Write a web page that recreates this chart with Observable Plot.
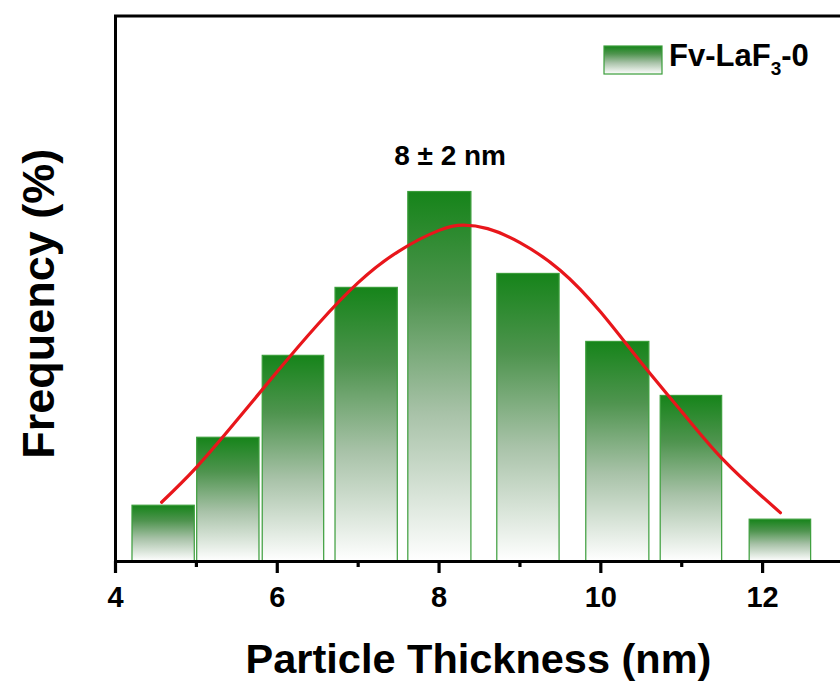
<!DOCTYPE html>
<html>
<head>
<meta charset="utf-8">
<script src="https://cdn.jsdelivr.net/npm/d3@7"></script>
<script src="https://cdn.jsdelivr.net/npm/@observablehq/plot@0.6"></script>
<style>
  html, body { margin: 0; padding: 0; background: #fff; overflow: hidden; }
  #chart svg { display: block; }
</style>
</head>
<body>
<div id="chart"></div>
<script>
// Histogram bins of particle thickness (nm) and their frequencies (%)
const binStart = [4.21, 5.01, 5.82, 6.72, 7.62, 8.72, 9.82, 10.74, 11.84];
const binEnd   = [4.98, 5.78, 6.58, 7.49, 8.40, 9.49, 10.60, 11.50, 12.60];
const frequency = [3.2, 7.1, 11.8, 15.7, 21.2, 16.5, 12.6, 9.5, 2.4];

// Gaussian fit curve, sampled along the thickness axis
const fitX = [4.57, 5.0, 5.5, 6.0, 6.5, 7.0, 7.5, 8.0, 8.3, 8.6,
              9.0, 9.5, 10.0, 10.5, 11.0, 11.5, 12.0, 12.22];
const fitY = [3.4, 5.4, 8.1, 10.9, 13.6, 16.0, 17.8, 19.0, 19.3, 19.1,
              18.3, 16.7, 14.3, 11.4, 8.6, 5.9, 3.7, 2.8];

const majorTicks = [4, 6, 8, 10, 12];
const minorTicks = [5, 7, 9, 11];

const sampleName = ["Fv-LaF", "3", "-0"];
const sizeLabel = "8 \u00b1 2 nm";
const xTitle = "Particle Thickness (nm)";
const yTitle = "Frequency (%)";

const bins = binStart.map((x1, i) => ({x1, x2: binEnd[i], f: frequency[i]}));
const fit = fitX.map((x, i) => ({x, y: fitY[i]}));

const font = "'Liberation Sans', Arial, Helvetica, sans-serif";

const chart = Plot.plot({
  width: 850,
  height: 682,
  marginLeft: 115,
  marginRight: 7,
  marginTop: 15.5,
  marginBottom: 121,
  style: {fontFamily: font, background: "white", color: "black"},
  x: {domain: [4, 13]},
  y: {domain: [0, 31.3], axis: null},
  marks: [
    Plot.rectY(bins, {x1: "x1", x2: "x2", y: "f", fill: "url(#barFill)", stroke: "#3a9d3a", strokeWidth: 1.2}),
    Plot.line(fit, {x: "x", y: "y", stroke: "#e8161b", strokeWidth: 3.2, curve: "natural"}),
    Plot.frame({stroke: "black", strokeWidth: 3}),
    // major and minor tick marks below the axis line
    Plot.axisX({ticks: majorTicks, tickSize: 12, strokeWidth: 3.2, text: null, label: null}),
    Plot.axisX({ticks: minorTicks, tickSize: 6, strokeWidth: 3.2, text: null, label: null}),
    // tick labels
    Plot.text(majorTicks, {x: d => d, text: d => `${d}`, frameAnchor: "bottom", dy: 36,
                lineAnchor: "middle", textAnchor: "middle", fontSize: 29, fontWeight: "bold"}),
    Plot.text([sizeLabel], {text: d => d, x: 8, y: frequency[4], dx: 11, dy: -36,
                lineAnchor: "middle", textAnchor: "middle", fontSize: 28, fontWeight: "bold"}),
    Plot.text([xTitle], {text: d => d, frameAnchor: "bottom", dy: 98, dx: -1,
                lineAnchor: "middle", textAnchor: "middle", fontSize: 41.5, fontWeight: "bold"}),
    Plot.text([yTitle], {text: d => d, frameAnchor: "left", rotate: -90, dx: -76, dy: 15,
                lineAnchor: "middle", textAnchor: "middle", fontSize: 45, fontWeight: "bold"})
  ]
});

chart.style.maxWidth = "none";

const svg = d3.select(chart);

// Vertical green-to-white fill shared by the bars and the legend swatch
const grad = svg.insert("defs", ":first-child")
  .append("linearGradient")
  .attr("id", "barFill")
  .attr("x1", 0).attr("y1", 0).attr("x2", 0).attr("y2", 1);
[[0, "#16841a"], [0.28, "#4f944f"], [0.6, "#a8c2a8"], [1, "#ffffff"]].forEach(([o, c]) =>
  grad.append("stop").attr("offset", o).attr("stop-color", c));

// Legend
const legend = svg.append("g");
legend.append("rect")
  .attr("x", 604).attr("y", 46).attr("width", 58).attr("height", 28)
  .attr("fill", "url(#barFill)").attr("stroke", "#3a9d3a").attr("stroke-width", 1.2);
const lt = legend.append("text")
  .attr("x", 669).attr("y", 66)
  .attr("text-anchor", "start")
  .attr("font-family", font).attr("font-weight", "bold").attr("font-size", 31)
  .attr("fill", "black");
lt.append("tspan").text(sampleName[0]);
lt.append("tspan").attr("font-size", 19).attr("dy", 9).text(sampleName[1]);
lt.append("tspan").attr("dy", -9).text(sampleName[2]);

document.getElementById("chart").appendChild(chart);
</script>
</body>
</html>
